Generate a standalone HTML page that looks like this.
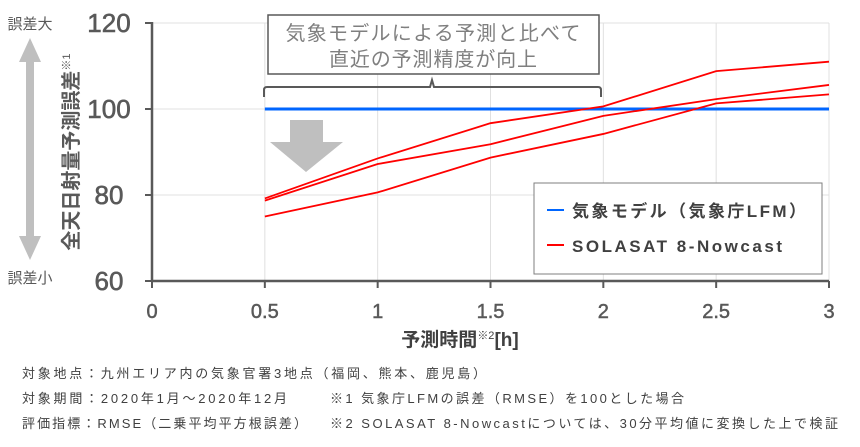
<!DOCTYPE html>
<html><head><meta charset="utf-8"><style>
body{margin:0;background:#fff;width:860px;height:442px;overflow:hidden;font-family:"Liberation Sans","Noto Sans CJK JP",sans-serif;}
svg text{font-family:"Liberation Sans","Noto Sans CJK JP",sans-serif;}
</style></head><body>
<svg width="860" height="442" viewBox="0 0 860 442">
<g id="grid"></g>
<g id="axes"></g>
<g id="series"></g>
<rect x="268" y="15" width="331" height="59" fill="#fff" stroke="#595959" stroke-width="1.5"/>
<text x="433" y="40" text-anchor="middle" font-size="20" fill="#7f7f7f" textLength="295" lengthAdjust="spacing">気象モデルによる予測と比べて</text>
<text x="433" y="66" text-anchor="middle" font-size="20" fill="#7f7f7f" textLength="208" lengthAdjust="spacing">直近の予測精度が向上</text>
<path d="M264,97 V90 Q264,87 267,87 H430 L432,80 L434,87 H598 Q601,87 601,90 V97" fill="none" stroke="#595959" stroke-width="2"/>
<path d="M290,120 H323 V142 H343 L306,172 L270,142 H290 Z" fill="#bfbfbf"/>
<text x="30" y="29" text-anchor="middle" font-size="15" fill="#595959">誤差大</text>
<text x="30" y="283" text-anchor="middle" font-size="15" fill="#595959">誤差小</text>
<path d="M30,38 L41,62 H34 V236 H41 L30,260 L19,236 H26 V62 H19 Z" fill="#bfbfbf"/>
<text transform="translate(78,152) rotate(-90)" text-anchor="middle" font-size="20" font-weight="bold" fill="#595959">全天日射量予測誤差<tspan font-size="11" font-weight="normal" dy="-8">※1</tspan></text>
<text x="460" y="346" text-anchor="middle" font-size="19" font-weight="bold" fill="#404040">予測時間<tspan font-size="11" font-weight="normal" dy="-7">※2</tspan><tspan dy="7">[h]</tspan></text>
<rect x="534" y="183" width="288" height="91" fill="#fff" stroke="#7f7f7f" stroke-width="1"/>
<line x1="547" y1="210" x2="564" y2="210" stroke="#0066ff" stroke-width="2"/>
<text x="572" y="217" font-size="17" font-weight="bold" fill="#404040" textLength="234" lengthAdjust="spacing">気象モデル（気象庁LFM）</text>
<line x1="547" y1="245" x2="564" y2="245" stroke="#ff0000" stroke-width="2"/>
<text x="572" y="252" font-size="17" font-weight="bold" fill="#404040" textLength="210" lengthAdjust="spacing">SOLASAT 8-Nowcast</text>
<g font-size="13" fill="#404040">
<text x="22" y="378" textLength="464" lengthAdjust="spacing">対象地点：九州エリア内の気象官署3地点（福岡、熊本、鹿児島）</text>
<text x="22" y="403" textLength="265" lengthAdjust="spacing">対象期間：2020年1月～2020年12月</text>
<text x="330" y="403" textLength="354" lengthAdjust="spacing">※1 気象庁LFMの誤差（RMSE）を100とした場合</text>
<text x="22" y="428" textLength="285" lengthAdjust="spacing">評価指標：RMSE（二乗平均平方根誤差）</text>
<text x="330" y="428" textLength="508" lengthAdjust="spacing">※2 SOLASAT 8-Nowcastについては、30分平均値に変換した上で検証</text>
</g>
</svg>
<script>
const xTicks=[0,0.5,1,1.5,2,2.5,3];
const xTickLabels=["0","0.5","1","1.5","2","2.5","3"];
const yTicks=[60,80,100,120];
const xHours=[0.5,1,1.5,2,2.5,3];
const lfmValues=[100,100,100,100,100,100];
const solasatA=[79.2,88.5,96.7,100.6,108.8,111];
const solasatB=[78.7,87.2,91.8,98.4,102.3,105.6];
const solasatC=[75,80.6,88.7,94.2,101.3,103.4];
const NS="http://www.w3.org/2000/svg";
const X=v=>152+v*(829-152)/3;
const Y=v=>281-(v-60)*(281-23)/60;
function mk(tag,attrs,parent){const e=document.createElementNS(NS,tag);for(const k in attrs)e.setAttribute(k,attrs[k]);parent.appendChild(e);return e;}
const grid=document.getElementById('grid'),axes=document.getElementById('axes'),ser=document.getElementById('series');
yTicks.forEach(t=>{
 if(t>60){const g=mk('line',{x1:152,x2:829,y1:Y(t),y2:Y(t),stroke:'#e0e0e0','stroke-width':1},grid);
 
 }
 const tk=mk('line',{x1:145,x2:152,y1:Y(t),y2:Y(t),stroke:'#595959','stroke-width':2},axes);
 
 
 const l=mk('text',{x:109,y:Y(t)+9,'text-anchor':'middle','font-size':26,fill:'#595959',stroke:'#595959','stroke-width':0.6},axes);
 l.textContent=t;
 
 
});
xTicks.forEach((t,i)=>{
 if(t>0){const g=mk('line',{x1:X(t),x2:X(t),y1:23,y2:281,stroke:'#e0e0e0','stroke-width':1},grid);
 
 }
 const tk=mk('line',{x1:X(t),x2:X(t),y1:281,y2:288,stroke:'#595959','stroke-width':2},axes);
 
 
 const l=mk('text',{x:X(t),y:318,'text-anchor':'middle','font-size':20,fill:'#595959',stroke:'#595959','stroke-width':0.5},axes);
 l.textContent=xTickLabels[i];
 
 
});
const ya=mk('line',{x1:152,x2:152,y1:22,y2:282,stroke:'#595959','stroke-width':2.5},axes);


const xa=mk('line',{x1:151,x2:829,y1:281,y2:281,stroke:'#595959','stroke-width':2.5},axes);


function line(vals,color,w,name){
 const p=mk('polyline',{points:vals.map((v,i)=>X(xHours[i])+','+Y(v)).join(' '),fill:'none',stroke:color,'stroke-width':w},ser);
 
 
}
line(lfmValues,'#0066ff',3,'line-lfm');
line(solasatA,'#ff0000',1.8,'line-solasat-a');
line(solasatB,'#ff0000',1.8,'line-solasat-b');
line(solasatC,'#ff0000',1.8,'line-solasat-c');
</script>
</body></html>
